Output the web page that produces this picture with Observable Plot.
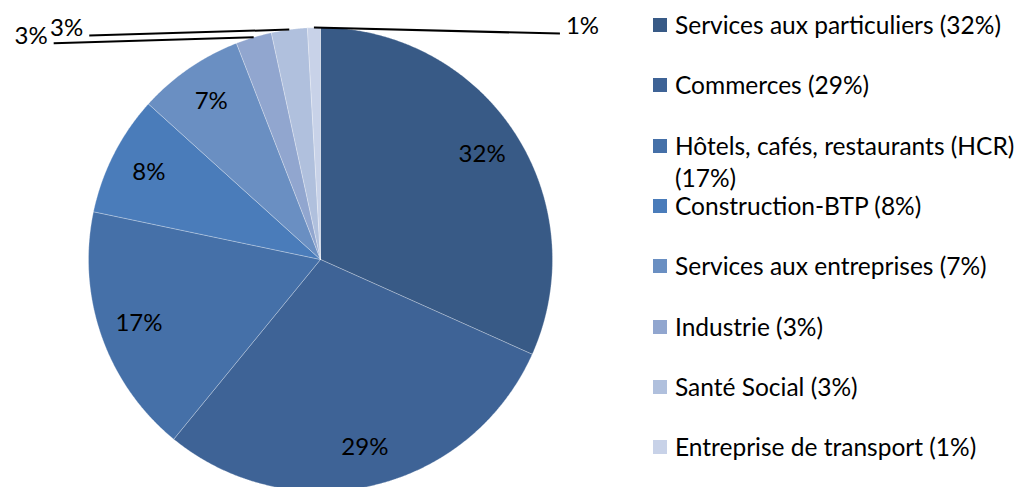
<!DOCTYPE html>
<html><head><meta charset="utf-8">
<script src="https://cdn.jsdelivr.net/npm/d3@7"></script>
<script src="https://cdn.jsdelivr.net/npm/@observablehq/plot@0.6"></script>
<style>
html,body{margin:0;padding:0;background:#fff;}
#wrap{display:flex;width:1019px;height:487px;font-family:Lato,"Open Sans",sans-serif;overflow:hidden;}
#legend{position:relative;width:374px;height:487px;flex:none;}
.row{position:absolute;left:8px;display:flex;align-items:flex-start;}
.sw{width:14px;height:14px;margin-top:9px;margin-right:8px;flex:none;}
.lab{width:344px;font-size:24.5px;line-height:32px;color:#000;white-space:normal;}
</style></head><body>
<div id="wrap"><div id="chart"></div><div id="legend"></div></div>
<script>
// Data
const sectors = ["Services aux particuliers", "Commerces", "Hôtels, cafés, restaurants (HCR)", "Construction-BTP", "Services aux entreprises", "Industrie", "Santé Social", "Entreprise de transport"];
const shares = [31.7, 29.2, 17.4, 8.4, 7.4, 2.5, 2.5, 0.9];
const colors = ["#385A86", "#3E6396", "#4570A8", "#4A7CBA", "#6A8FC2", "#91A6CF", "#B0C0DD", "#C8D2E8"];

const pct = v => Math.round(v) + "%";
const data = sectors.map((sector, i) => ({sector, share: shares[i], label: pct(shares[i])}));

// layout
const W = 645, H = 487, cx = 320, cy = 259, R = 232;
const arcs = d3.pie().sort(null).value(d => d.share)(data);

const poly = arcs.flatMap(a => {
  const key = a.data.sector;
  const n = Math.max(2, Math.ceil((a.endAngle - a.startAngle) / 0.005));
  const pts = [{key, x: 0, y: 0}];
  for (let k = 0; k <= n; k++) {
    const t = a.startAngle + (a.endAngle - a.startAngle) * k / n;
    pts.push({key, x: Math.sin(t), y: Math.cos(t)});
  }
  pts.push({key, x: 0, y: 0});
  return pts;
});

const mids = arcs.map(a => {
  const m = (a.startAngle + a.endAngle) / 2;
  return {...a.data, m, sx: Math.sin(m), sy: Math.cos(m)};
});
const inside = mids.filter(d => d.share >= 5).map(d => ({...d, x: 0.83 * d.sx, y: 0.83 * d.sy}));
const outside = mids.filter(d => d.share < 5).map(d => {
  const left = d.sx < -0.05;
  return {...d, left, x1: d.sx, y1: d.sy, x2: d.sx + (left ? -200 : 246) / R, y2: d.sy - 6 / R};
});

const font = "Lato, 'Open Sans', sans-serif";
const chart = Plot.plot({
  width: W, height: H,
  margin: 0,
  x: {domain: [-cx / R, (W - cx) / R], axis: null},
  y: {domain: [(cy - H) / R, cy / R], axis: null},
  color: {type: "ordinal", domain: sectors, range: colors},
  style: {fontFamily: font, background: "white"},
  marks: [
    Plot.line(poly, {x: "x", y: "y", z: "key", fill: "key", stroke: "white", strokeOpacity: 0.35, strokeWidth: 0.8, curve: "linear"}),
    Plot.text(inside, {x: "x", y: "y", text: "label", fontSize: 24, fill: "black"}),
    Plot.link(outside, {x1: "x1", y1: "y1", x2: "x2", y2: "y2", stroke: "black", strokeWidth: 2}),
    Plot.text(outside.filter(d => d.left), {x: "x2", y: "y2", text: "label", textAnchor: "end", dx: -6, dy: -7, fontSize: 24, fill: "black"}),
    Plot.text(outside.filter(d => !d.left), {x: "x2", y: "y2", text: "label", textAnchor: "start", dx: 6, dy: -7, fontSize: 24, fill: "black"})
  ]
});
document.getElementById("chart").appendChild(chart);

const color = chart.scale("color");
const legend = document.getElementById("legend");
data.forEach((d, i) => {
  const row = document.createElement("div");
  row.className = "row";
  row.style.top = (9 + i * 60.3) + "px";
  const sw = document.createElement("div");
  sw.className = "sw";
  sw.style.background = color.apply(d.sector);
  const lab = document.createElement("div");
  lab.className = "lab";
  lab.textContent = `${d.sector} (${d.label})`;
  row.appendChild(sw); row.appendChild(lab);
  legend.appendChild(row);
});
</script>
</body></html>
